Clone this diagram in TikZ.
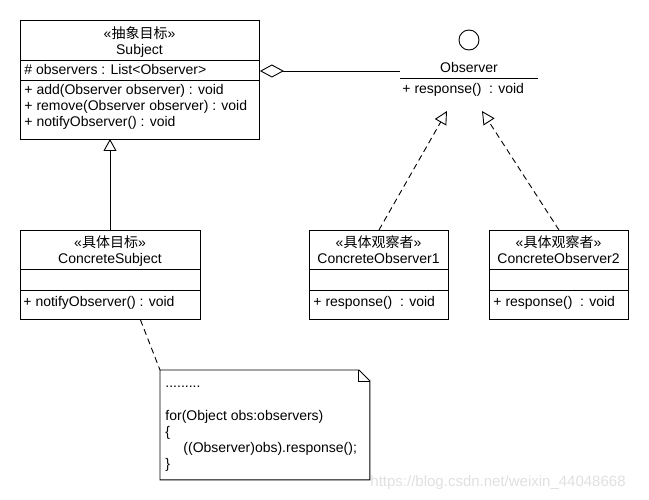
\documentclass[tikz,border=0pt]{standalone}
\usepackage{fontspec}
\setmainfont{Liberation Sans}
\newfontfamily\cjk{Noto Sans CJK SC}
\usetikzlibrary{arrows.meta, calc}

\tikzset{
  umlbox/.style={draw, inner sep=0pt, anchor=north west},
  lt/.style={inner sep=0pt, anchor=base west},
  ct/.style={inner sep=0pt, anchor=base},
  realize/.style={dash pattern=on 6pt off 4pt, -{Triangle[open, length=13pt, width=13pt]}},
}

\begin{document}
\begin{tikzpicture}[x=1pt, y=-1pt, line width=0.9pt, font=\fontsize{14}{16}\selectfont]
\useasboundingbox (0,0) rectangle (649,500);
% Subject
\node[umlbox, minimum width=239pt, minimum height=119pt] (subject) at (20,20) {};
\draw (20,60) -- (259,60); \draw (20,80) -- (259,80);
\node[ct] (subjst) at (139.5,39) {«{\cjk 抽象目标}»};
\node[ct] (subjnm) at (139.5,55) {Subject};
\node[lt] (subjat) at (24,75) {\# observers : List<Observer>};
\node[lt] (subjm1) at (24,95) {+ add(Observer observer) : void};
\node[lt] (subjm2) at (24,111) {+ remove(Observer observer) : void};
\node[lt] (subjm3) at (24,127) {+ notifyObserver() : void};
% Observer
\node[draw, circle, minimum size=20pt, inner sep=0pt] (obsicon) at (469,40) {};
\node[ct] (obsnm) at (469,73) {Observer};
\draw (400,78) -- (538,78);
\node[lt] (obsm) at (402,94) {+ response()\ \ : void};
% ConcreteSubject
\node[umlbox, minimum width=180pt, minimum height=89pt] (csubject) at (20,230) {};
\draw (20,269) -- (200,269); \draw (20,290) -- (200,290);
\node[ct] (csubjst) at (110,248) {«{\cjk 具体目标}»};
\node[ct] (csubjnm) at (110,264) {ConcreteSubject};
\node[lt] (csubjm) at (23,306) {+ notifyObserver() : void};
% ConcreteObserver1
\node[umlbox, minimum width=139pt, minimum height=89pt] (cobs1) at (309,230) {};
\draw (309,269) -- (448,269); \draw (309,290) -- (448,290);
\node[ct] (cobs1st) at (378.5,248) {«{\cjk 具体观察者}»};
\node[ct] (cobs1nm) at (378.5,264) {ConcreteObserver1};
\node[lt] (cobs1m) at (313,306) {+ response()\ \ : void};
% ConcreteObserver2
\node[umlbox, minimum width=139pt, minimum height=89pt] (cobs2) at (489,230) {};
\draw (489,269) -- (628,269); \draw (489,290) -- (628,290);
\node[ct] (cobs2st) at (558.5,248) {«{\cjk 具体观察者}»};
\node[ct] (cobs2nm) at (558.5,264) {ConcreteObserver2};
\node[lt] (cobs2m) at (493,306) {+ response()\ \ : void};
% note
\node[anchor=north west, minimum width=209pt, minimum height=109pt, inner sep=0pt] (note) at (160,370) {};
\draw (note.north west) -- ([xshift=-11pt]note.north east) -- ([yshift=-11pt]note.north east)
  -- (note.south east) -- (note.south west) -- cycle;
\draw ([xshift=-11pt]note.north east) |- ([yshift=-11pt]note.north east);
\node[lt] (nt1) at (165,387) {.........};
\node[lt] (nt2) at (165,420) {for(Object obs:observers)};
\node[lt] (nt3) at (165,436) {\{};
\node[lt] (nt4) at (183,452) {((Observer)obs).response();};
\node[lt] (nt5) at (165,468) {\}};
% connectors
\coordinate (obsl) at (400,71);
\coordinate (real1) at (447,111);
\coordinate (real2) at (482,111);
\draw[{Diamond[open, length=24pt, width=13pt]}-] (subject.east |- obsl) -- (obsl);
\draw[-{Triangle[open, length=12pt, width=13pt]}] (110,230) -- (110,139);
\draw[realize] (cobs1.north) -- (real1);
\draw[realize] (cobs2.north) -- (real2);
\draw[dash pattern=on 6pt off 4pt] ($(csubject.south)+(30,0)$) -- (note.north west);
\node[lt, text=black!12, font=\fontsize{15}{15}\selectfont] (mark) at (370,486) {https://blog.csdn.net/weixin\_44048668};
\end{tikzpicture}
\end{document}
